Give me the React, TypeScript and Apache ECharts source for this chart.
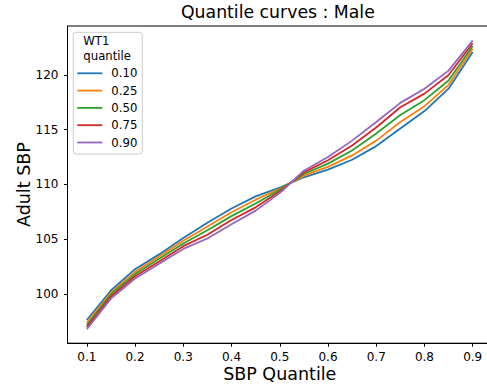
import React, { useEffect, useRef } from "react";
import * as echarts from "echarts";

const quantiles = [0.1, 0.15, 0.2, 0.25, 0.3, 0.35, 0.4, 0.45, 0.5, 0.55, 0.6, 0.65, 0.7, 0.75, 0.8, 0.85, 0.9];
const seriesNames = ["0.10", "0.25", "0.50", "0.75", "0.90"];
const q10 = [97.6, 100.3, 102.25, 103.6, 105.1, 106.5, 107.8, 108.9, 109.7, 110.65, 111.35, 112.25, 113.5, 115.1, 116.7, 118.75, 122.1];
const q25 = [97.35, 100.1, 102.0, 103.4, 104.85, 106.15, 107.45, 108.6, 109.6, 110.8, 111.6, 112.65, 114.0, 115.7, 117.15, 119.1, 122.4];
const q50 = [97.15, 99.95, 101.8, 103.2, 104.6, 105.8, 107.1, 108.25, 109.5, 110.95, 111.9, 113.1, 114.65, 116.35, 117.7, 119.5, 122.65];
const q75 = [96.95, 99.75, 101.6, 102.95, 104.35, 105.4, 106.75, 107.9, 109.35, 111.1, 112.2, 113.55, 115.2, 117.05, 118.3, 120.0, 122.9];
const q90 = [96.75, 99.55, 101.4, 102.75, 104.1, 105.05, 106.35, 107.6, 109.2, 111.25, 112.5, 114.0, 115.7, 117.45, 118.75, 120.4, 123.15];
const xTicks = [0.1, 0.2, 0.3, 0.4, 0.5, 0.6, 0.7, 0.8, 0.9];
const yTicks = [100, 105, 110, 115, 120];
const colors = ["#1f77b4", "#ff7f0e", "#2ca02c", "#d62728", "#9467bd"];

const FONT = "DejaVu Sans";

export default function App() {
  const ref = useRef<HTMLDivElement>(null);
  useEffect(() => {
    if (!ref.current) return;
    const chart = echarts.init(ref.current, undefined, { renderer: "svg" });
    const all = [q10, q25, q50, q75, q90];
    const series = all.map((vals, i) => ({
      name: seriesNames[i],
      type: "line",
      data: quantiles.map((q, j) => [q, vals[j]]),
      showSymbol: false,
      symbol: "none",
      lineStyle: { color: colors[i], width: 1.8 },
      itemStyle: { color: colors[i] },
      z: 2 + i,
    }));
    chart.setOption({
      animation: false,
      backgroundColor: "#ffffff",
      title: {
        text: "Quantile curves : Male",
        left: 181,
        top: 3,
        padding: 0,
        textStyle: { fontFamily: FONT, fontSize: 17.3, fontWeight: "normal", color: "#000" },
      },
      grid: {
        left: 67.5,
        top: 26,
        width: 424.5,
        height: 317.2,
        containLabel: false,
        outerBoundsMode: "none",
        show: true,
        borderColor: "#000",
        borderWidth: 1,
        backgroundColor: "transparent",
      },
      legend: {
        orient: "vertical",
        left: 77.3,
        top: 66.3,
        padding: 0,
        icon: "rect",
        itemWidth: 25,
        itemHeight: 1.8,
        itemGap: 3.3,
        data: seriesNames,
        textStyle: {
          fontFamily: FONT,
          fontSize: 11.7,
          color: "#000",
          lineHeight: 14,
          padding: [0, 0, 0, 4],
        },
        z: 10,
      },
      graphic: [
        {
          type: "rect",
          z: 5,
          shape: { x: 73.3, y: 32.3, width: 69, height: 121.7, r: 3 },
          style: { fill: "rgba(255,255,255,0.8)", stroke: "#cccccc", lineWidth: 1 },
        },
        {
          type: "text",
          z: 6,
          x: 83.3,
          y: 33.5,
          style: {
            text: "WT1\nquantile",
            fontFamily: FONT,
            fontSize: 11.7,
            lineHeight: 14.7,
            fill: "#000",
            textAlign: "left",
            textVerticalAlign: "top",
          },
        },
      ],
      xAxis: {
        type: "value",
        min: 0.06,
        max: 0.94,
        name: "SBP Quantile",
        nameLocation: "middle",
        nameGap: 22,
        nameMoveOverlap: false,
        nameTextStyle: { fontFamily: FONT, fontSize: 17.5, color: "#000" },
        axisLine: { show: true, onZero: false, lineStyle: { color: "#000", width: 1 } },
        axisTick: { show: true, length: 3.5, lineStyle: { color: "#000" }, customValues: xTicks },
        axisLabel: {
          fontFamily: FONT,
          fontSize: 12,
          color: "#000",
          margin: 7.5,
          customValues: xTicks,
          formatter: (v: number) => v.toFixed(1),
        },
        splitLine: { show: false },
      },
      yAxis: {
        type: "value",
        min: 95.48,
        max: 124.48,
        name: "Adult SBP",
        nameLocation: "middle",
        nameGap: 35,
        nameMoveOverlap: false,
        nameTextStyle: { fontFamily: FONT, fontSize: 17.5, color: "#000" },
        axisLine: { show: true, onZero: false, lineStyle: { color: "#000", width: 1 } },
        axisTick: { show: true, length: 3.5, lineStyle: { color: "#000" }, customValues: yTicks },
        axisLabel: {
          fontFamily: FONT,
          fontSize: 12,
          color: "#000",
          margin: 9,
          customValues: yTicks,
          formatter: (v: number) => String(Math.round(v)),
        },
        splitLine: { show: false },
      },
      series,
    });
    return () => chart.dispose();
  }, []);
  return (
    <div
      ref={ref}
      style={{ position: "fixed", left: 0, top: 0, width: 487, height: 391, background: "#fff" }}
    />
  );
}
